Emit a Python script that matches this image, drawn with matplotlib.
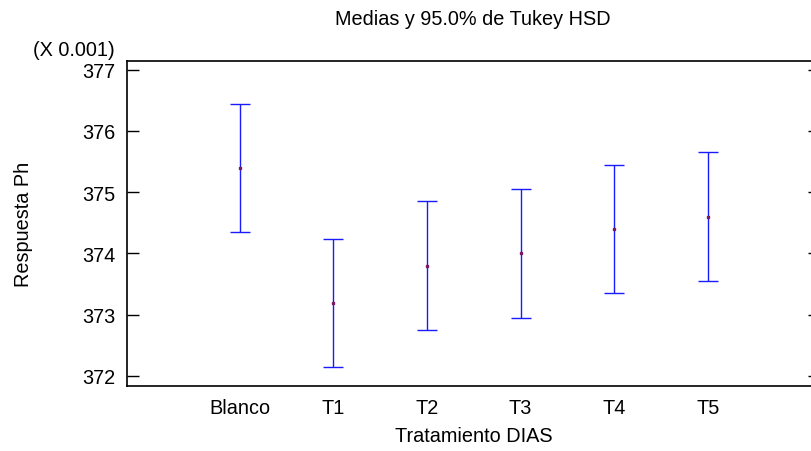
import matplotlib.pyplot as plt
import numpy as np

plt.rcParams['font.family'] = ['Liberation Sans', 'DejaVu Sans']

# Tukey HSD means (x 0.001) and interval half widths
grupos = ['Blanco', 'T1', 'T2', 'T3', 'T4', 'T5']
medias = [375.39, 373.19, 373.80, 374.00, 374.40, 374.60]
semi = [1.05, 1.05, 1.05, 1.05, 1.05, 1.05]
yticks = [372, 373, 374, 375, 376, 377]

W, H = 812, 452
fs = 14.3
fig = plt.figure(figsize=(W / 100, H / 100), dpi=100)
# right spine sits just past the image edge, like the original export
ax = fig.add_axes([127 / W, 1 - 387.3 / H, (820 - 127) / W, (387.3 - 61.7) / H])

x = np.arange(len(grupos))
ax.errorbar(x, medias, yerr=semi, fmt='none', ecolor='#1a1aff', elinewidth=1,
            capsize=7, capthick=1)
ax.plot(x, medias, 's', color='#7a1a5a', markersize=2, linestyle='none')

ax.set_xlim(-1.207, 6.2)
ax.set_ylim(371.827, 377.147)
ax.set_xticks(x)
ax.set_xticklabels(grupos)
ax.set_yticks(yticks)
ax.tick_params(axis='y', direction='in', length=8.6, width=1, pad=8.6,
               labelsize=fs, right=True)
ax.tick_params(axis='x', length=0, pad=8.5, labelsize=fs)
for s in ax.spines.values():
    s.set_linewidth(1.2)

fig.text(473 / W, 1 - 25 / H, 'Medias y 95.0% de Tukey HSD', ha='center',
         va='baseline', fontsize=fs)
fig.text(115 / W, 1 - 56.5 / H, '(X 0.001)', ha='right', va='baseline',
         fontsize=fs)
fig.text(24 / W, 1 - 224 / H, 'Respuesta Ph', rotation=90, ha='center',
         va='center', fontsize=fs)
fig.text(474 / W, 1 - 437 / H, 'Tratamiento DIAS', ha='center', va='center',
         fontsize=fs)

fig.savefig('out.png', dpi=100)
